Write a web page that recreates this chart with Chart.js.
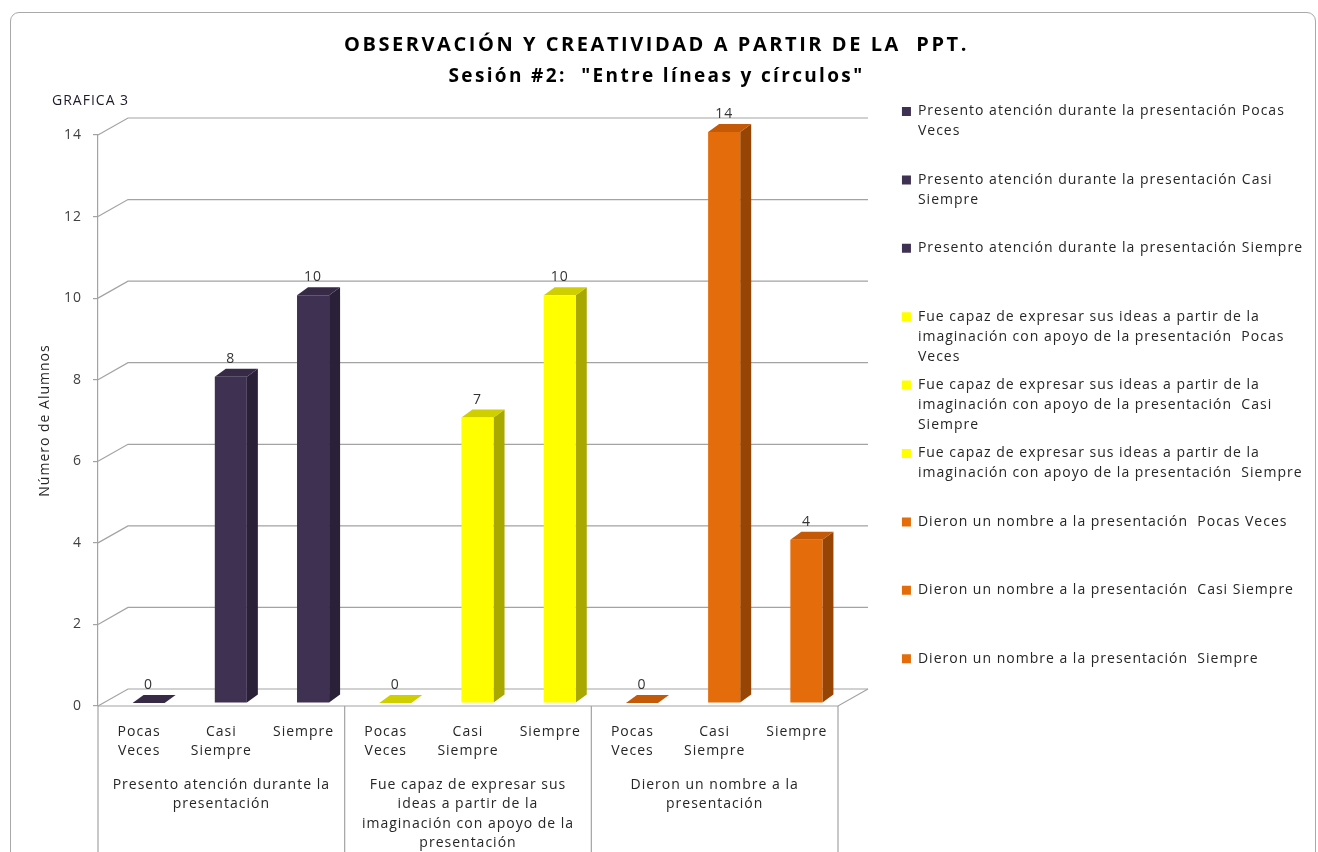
<!DOCTYPE html>
<html>
<head>
<meta charset="utf-8">
<script src="https://cdn.jsdelivr.net/npm/chart.js@4.4.1/dist/chart.umd.min.js"></script>
<style>
html, body { margin: 0; padding: 0; background: #ffffff; overflow: hidden; width: 1318px; height: 852px; }
#frame { position: absolute; left: 10px; top: 12px; width: 1306px; height: 900px; border: 1.5px solid #a9a9a9; border-radius: 9px; box-sizing: border-box; }
#wrap { position: absolute; left: 0; top: 0; width: 1318px; height: 880px; }
</style>
</head>
<body>
<div id="frame"></div>
<div id="wrap"><canvas id="c" width="1318" height="880"></canvas></div>
<script>
// ---------------- DATA ----------------
const categories = [
  ['Pocas', 'Veces'], ['Casi', 'Siempre'], ['Siempre'],
  ['Pocas', 'Veces'], ['Casi', 'Siempre'], ['Siempre'],
  ['Pocas', 'Veces'], ['Casi', 'Siempre'], ['Siempre']
];
const groups = [
  ['Presento atención durante la', 'presentación'],
  ['Fue capaz de expresar sus', 'ideas a partir de la', 'imaginación con apoyo de la', 'presentación'],
  ['Dieron un nombre a la', 'presentación']
];
const values = [0, 8, 10, 0, 7, 10, 0, 14, 4];
const seriesNames = [
  'Presento atención durante la presentación Pocas Veces',
  'Presento atención durante la presentación Casi Siempre',
  'Presento atención durante la presentación Siempre',
  'Fue capaz de expresar sus ideas a partir de la imaginación con apoyo de la presentación  Pocas Veces',
  'Fue capaz de expresar sus ideas a partir de la imaginación con apoyo de la presentación  Casi Siempre',
  'Fue capaz de expresar sus ideas a partir de la imaginación con apoyo de la presentación  Siempre',
  'Dieron un nombre a la presentación  Pocas Veces',
  'Dieron un nombre a la presentación  Casi Siempre',
  'Dieron un nombre a la presentación  Siempre'
];
const legendLines = [
  ['Presento atención durante la presentación Pocas', 'Veces', ''],
  ['Presento atención durante la presentación Casi', 'Siempre', ''],
  ['Presento atención durante la presentación Siempre', '', ''],
  ['Fue capaz de expresar sus ideas a partir de la', 'imaginación con apoyo de la presentación  Pocas', 'Veces'],
  ['Fue capaz de expresar sus ideas a partir de la', 'imaginación con apoyo de la presentación  Casi', 'Siempre'],
  ['Fue capaz de expresar sus ideas a partir de la', 'imaginación con apoyo de la presentación  Siempre', ''],
  ['Dieron un nombre a la presentación  Pocas Veces', '', ''],
  ['Dieron un nombre a la presentación  Casi Siempre', '', ''],
  ['Dieron un nombre a la presentación  Siempre', '', '']
];
const titleText = 'OBSERVACIÓN Y CREATIVIDAD A PARTIR DE LA  PPT.';
const subtitleText = 'Sesión #2:  "Entre líneas y círculos"';
const yTickStep = 2;
const yMax = 14;

// ---------------- STYLE ----------------
const PURPLE = ['#3F3151', '#372a47', '#2a2037'];
const YELLOW = ['#FFFF00', '#cfcf00', '#a8a800'];
const ORANGE = ['#E46C0A', '#c45a08', '#964505'];
const palette = [PURPLE, PURPLE, PURPLE, YELLOW, YELLOW, YELLOW, ORANGE, ORANGE, ORANGE];
const FONT = "'Open Sans', 'DejaVu Sans', sans-serif";
const GRID = '#a3a3a3';
const TEXT = '#262626';
const CHART_RIGHT = 838;
const PAD_RIGHT = 5;
const BAR_OFF = { x: 9.5, y: -3 };
const BAR3D = { dx: 11, dy: -8 };
const WALL = { dx: 30, dy: -17 };
const BASE_SPACING = '1px';
const TITLE_SPACING = { [titleText]: 2.55, [subtitleText]: 2.35 };

Chart.defaults.font.family = FONT;
Chart.defaults.color = TEXT;

const spacing = {
  id: 'spacing',
  beforeUpdate(chart) { chart.ctx.letterSpacing = BASE_SPACING; },
  beforeDraw(chart) { chart.ctx.letterSpacing = BASE_SPACING; },
  afterLayout(chart) {
    chart.boxes.forEach(b => {
      if (b._lsPatched || !b.options || typeof b.options.text !== 'string') return;
      const ls = TITLE_SPACING[b.options.text];
      if (ls == null) return;
      const protoDraw = Object.getPrototypeOf(b).draw;
      b.draw = function (ca) {
        const c = this.ctx;
        const prev = c.letterSpacing;
        c.letterSpacing = ls + 'px';
        protoDraw.call(this, ca);
        c.letterSpacing = prev;
      };
      b._lsPatched = true;
    });
  }
};

const excel3d = {
  id: 'excel3d',
  beforeDatasetsDraw(chart) {
    const { ctx, chartArea: ca, scales } = chart;
    const y = scales.y, x2 = scales.x2;
    ctx.save();
    ctx.strokeStyle = GRID;
    ctx.lineWidth = 1.2;
    // back wall grid
    y.ticks.forEach(t => {
      const py = y.getPixelForValue(t.value);
      ctx.beginPath();
      ctx.moveTo(ca.left, py);
      ctx.lineTo(ca.left + WALL.dx, py + WALL.dy);
      ctx.lineTo(ca.right + WALL.dx, py + WALL.dy);
      ctx.stroke();
    });
    // floor front and right edge
    const p0 = y.getPixelForValue(0);
    ctx.beginPath();
    ctx.moveTo(ca.left, p0);
    ctx.lineTo(ca.right, p0);
    ctx.lineTo(ca.right + WALL.dx, p0 + WALL.dy);
    ctx.stroke();
    // group dividers
    const bounds = [x2.left];
    for (let i = 0; i < groups.length - 1; i++) {
      bounds.push((x2.getPixelForTick(i) + x2.getPixelForTick(i + 1)) / 2);
    }
    bounds.push(x2.right);
    bounds.forEach(bx => {
      ctx.beginPath();
      ctx.moveTo(bx, p0);
      ctx.lineTo(bx, chart.height);
      ctx.stroke();
    });
    // chart label
    ctx.fillStyle = '#1b1b2b';
    ctx.font = '14px ' + FONT;
    ctx.textAlign = 'left';
    ctx.textBaseline = 'middle';
    ctx.fillText('GRAFICA 3', 52, 101);
    ctx.restore();

    // 3D faces of columns (front face drawn by Chart.js)
    ctx.save();
    ctx.translate(BAR_OFF.x, BAR_OFF.y);
    chart.data.datasets.forEach((ds, di) => {
      const meta = chart.getDatasetMeta(di);
      meta.data.forEach((el, j) => {
        if (ds.data[j] == null) return;
        const p = el.getProps(['x', 'y', 'base', 'width'], true);
        const l = p.x - p.width / 2, r = p.x + p.width / 2;
        const top = Math.min(p.y, p.base), bot = Math.max(p.y, p.base);
        const { dx, dy } = BAR3D;
        if (bot - top > 0.5) {
          ctx.fillStyle = palette[di][2];
          ctx.beginPath();
          ctx.moveTo(r, top); ctx.lineTo(r + dx, top + dy);
          ctx.lineTo(r + dx, bot + dy); ctx.lineTo(r, bot);
          ctx.closePath(); ctx.fill();
        }
        ctx.fillStyle = palette[di][1];
        ctx.beginPath();
        ctx.moveTo(l, top); ctx.lineTo(l + dx, top + dy);
        ctx.lineTo(r + dx, top + dy); ctx.lineTo(r, top);
        ctx.closePath(); ctx.fill();
      });
    });
  },
  afterDatasetsDraw(chart) {
    const ctx = chart.ctx;
    ctx.restore();
    ctx.save();
    ctx.fillStyle = '#333333';
    ctx.font = '14px ' + FONT;
    ctx.textAlign = 'center';
    ctx.textBaseline = 'alphabetic';
    chart.data.datasets.forEach((ds, di) => {
      const meta = chart.getDatasetMeta(di);
      meta.data.forEach((el, j) => {
        if (ds.data[j] == null) return;
        const p = el.getProps(['x', 'y', 'base'], true);
        const top = Math.min(p.y, p.base) + BAR_OFF.y + BAR3D.dy;
        ctx.fillText(String(ds.data[j]), p.x + BAR_OFF.x, top - 6);
      });
    });
    ctx.restore();
  }
};

const datasets = seriesNames.map((name, i) => ({
  label: name,
  data: categories.map((_, j) => (j === i ? values[i] : null)),
  backgroundColor: palette[i][0],
  borderWidth: 0,
  skipNull: true,
  categoryPercentage: 1,
  barPercentage: 0.39,
  clip: false,
  xAxisID: 'x',
  yAxisID: 'y'
}));

new Chart(document.getElementById('c'), {
  type: 'bar',
  data: { labels: categories, datasets },
  plugins: [spacing, excel3d],
  options: {
    responsive: false,
    animation: false,
    events: [],
    layout: { padding: { top: 0, left: 0, right: PAD_RIGHT, bottom: 14 } },
    scales: {
      x: {
        type: 'category', position: 'bottom', weight: 0,
        grid: { display: false }, border: { display: false },
        ticks: { padding: 8.5, autoSkip: false, maxRotation: 0, color: TEXT, font: { size: 14, lineHeight: 19 / 14 } },
        afterFit: s => { s.height = 60; }
      },
      x2: {
        type: 'category', position: 'bottom', weight: 1, labels: groups, offset: true,
        grid: { display: false }, border: { display: false },
        ticks: { padding: 1.25, autoSkip: false, maxRotation: 0, color: TEXT, font: { size: 14, lineHeight: 19.5 / 14 } },
        afterFit: s => { s.height = 100; }
      },
      y: {
        type: 'linear', position: 'left', min: 0, max: yMax,
        ticks: { stepSize: yTickStep, padding: 11, color: '#404040', font: { size: 14 } },
        grid: { drawOnChartArea: false, drawTicks: true, tickLength: 5, color: GRID, lineWidth: 1.2 },
        border: { display: true, color: GRID, width: 1.2 },
        title: { display: true, text: 'Número de Alumnos', color: TEXT, font: { size: 14, lineHeight: 1.2 }, padding: { top: 36.6, bottom: 0 } },
        afterFit: s => { s.width = 98; }
      },
      yR: {
        type: 'linear', position: 'right', display: true,
        grid: { display: false }, border: { display: false }, ticks: { display: false },
        afterFit: s => {
          const lw = s.chart.legend ? s.chart.legend.width : 0;
          s.width = Math.max(0, s.chart.width - CHART_RIGHT - lw - PAD_RIGHT);
        }
      }
    },
    plugins: {
      tooltip: { enabled: false },
      title: {
        display: true, text: titleText, color: '#000000',
        font: { size: 20, weight: 'bold', lineHeight: 1.2 }, padding: { top: 33, bottom: 0 }
      },
      subtitle: {
        display: true, text: subtitleText, color: '#000000',
        font: { size: 19, weight: 'bold', lineHeight: 1.2 }, padding: { top: 8, bottom: 47.2 }
      },
      legend: {
        position: 'right', align: 'start', maxWidth: 440,
        title: { display: true, text: '', font: { size: 12, lineHeight: 1.2 }, padding: { top: 81.7, bottom: 0 } },
        labels: {
          boxWidth: 9, boxHeight: 9, padding: 8.4, color: TEXT,
          font: { size: 14, lineHeight: 20 / 14 },
          generateLabels(chart) {
            const items = Chart.defaults.plugins.legend.labels.generateLabels(chart);
            return items.map((it, i) => Object.assign({}, it, { text: legendLines[i], lineWidth: 0, strokeStyle: 'rgba(0,0,0,0)' }));
          }
        }
      }
    }
  }
});
</script>
</body>
</html>
